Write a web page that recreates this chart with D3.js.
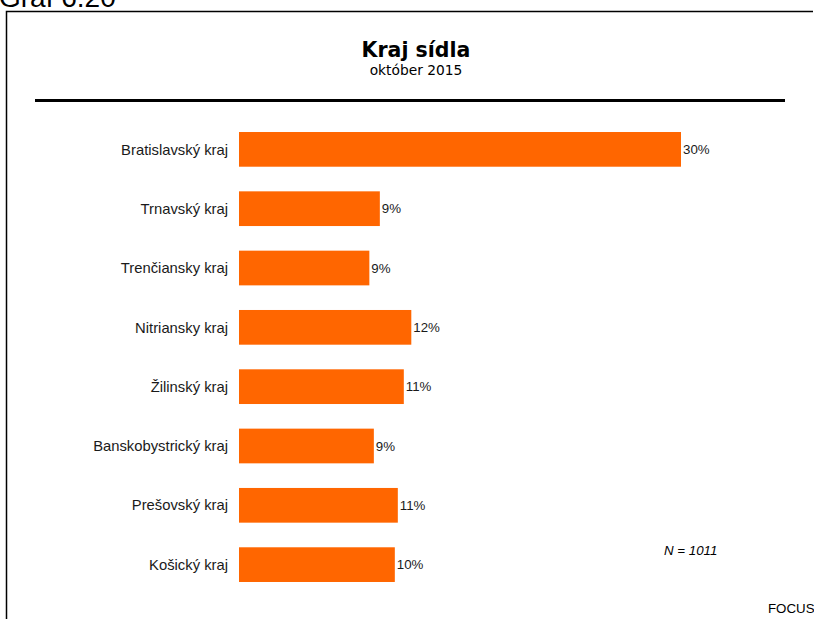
<!DOCTYPE html>
<html>
<head>
<meta charset="utf-8">
<script src="https://cdn.jsdelivr.net/npm/d3@7"></script>
<style>
  body { margin: 0; background: #fff; }
</style>
</head>
<body>
<div id="chart"></div>
<script>
const categories = ["Bratislavský kraj", "Trnavský kraj", "Trenčiansky kraj", "Nitriansky kraj",
  "Žilinský kraj", "Banskobystrický kraj", "Prešovský kraj", "Košický kraj"];
const values = [29.5, 9.4, 8.7, 11.5, 11.0, 9.0, 10.6, 10.4];
const valueLabels = ["30%", "9%", "9%", "12%", "11%", "9%", "11%", "10%"];

const width = 814, height = 619;

const svg = d3.select("#chart")
  .append("svg")
  .attr("width", width)
  .attr("height", height);

// cut-off caption above the frame
svg.append("text")
  .attr("x", -1)
  .attr("y", 7)
  .attr("font-family", "Liberation Sans, Arial, sans-serif")
  .attr("font-size", "28px")
  .attr("fill", "#000")
  .text("Graf 6.20");

// frame (left + top)
svg.append("path")
  .attr("d", "M6.5,619 L6.5,11.5 L813,11.5")
  .attr("fill", "none")
  .attr("stroke", "#000")
  .attr("stroke-width", 1.5);

svg.append("text")
  .attr("x", 416)
  .attr("y", 57)
  .attr("text-anchor", "middle")
  .attr("font-family", "DejaVu Sans, Verdana, sans-serif")
  .attr("font-weight", "bold")
  .attr("font-size", "20.5px")
  .text("Kraj sídla");

svg.append("text")
  .attr("x", 416)
  .attr("y", 75)
  .attr("text-anchor", "middle")
  .attr("font-family", "DejaVu Sans, Verdana, sans-serif")
  .attr("font-size", "13.8px")
  .text("október 2015");

svg.append("line")
  .attr("x1", 35).attr("x2", 785)
  .attr("y1", 100.5).attr("y2", 100.5)
  .attr("stroke", "#000")
  .attr("stroke-width", 3);

const x = d3.scaleLinear().domain([0, 29.5]).range([239, 681]);
const y = d3.scaleBand()
  .domain(categories)
  .range([119.7, 594.3])
  .paddingInner(0.415)
  .paddingOuter(0.2075);

const rows = svg.selectAll("g.row")
  .data(categories.map((c, i) => ({ c, v: values[i], l: valueLabels[i] })))
  .enter()
  .append("g")
  .attr("class", "row");

rows.append("rect")
  .attr("x", x(0))
  .attr("y", d => y(d.c))
  .attr("width", d => x(d.v) - x(0))
  .attr("height", y.bandwidth())
  .attr("fill", "#ff6600");

rows.append("text")
  .attr("x", 228)
  .attr("y", d => y(d.c) + y.bandwidth() / 2)
  .attr("dy", "0.35em")
  .attr("text-anchor", "end")
  .attr("font-family", "Liberation Sans, Arial, sans-serif")
  .attr("font-size", "14.8px")
  .attr("fill", "#1a1a1a")
  .text(d => d.c);

rows.append("text")
  .attr("x", d => x(d.v) + 2)
  .attr("y", d => y(d.c) + y.bandwidth() / 2)
  .attr("dy", "0.35em")
  .attr("font-family", "Liberation Sans, Arial, sans-serif")
  .attr("font-size", "13.3px")
  .attr("fill", "#1a1a1a")
  .text(d => d.l);

svg.append("text")
  .attr("x", 664)
  .attr("y", 555)
  .attr("font-family", "Liberation Sans, Arial, sans-serif")
  .attr("font-style", "italic")
  .attr("font-size", "13.3px")
  .text("N = 1011");

svg.append("text")
  .attr("x", 768)
  .attr("y", 613)
  .attr("font-family", "Liberation Sans, Arial, sans-serif")
  .attr("font-size", "13.3px")
  .text("FOCUS");
</script>
</body>
</html>
